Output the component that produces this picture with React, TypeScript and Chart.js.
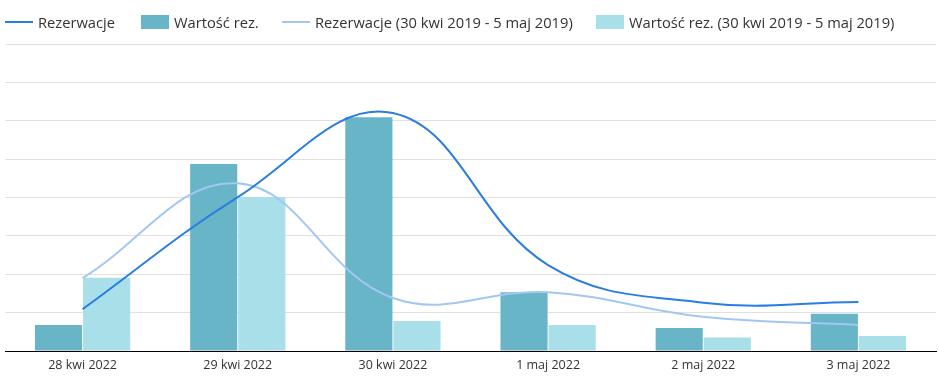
import React, { useEffect, useRef } from "react";
import { Chart, registerables } from "chart.js";

Chart.register(...registerables);

const categories = ["28 kwi 2022", "29 kwi 2022", "30 kwi 2022", "1 maj 2022", "2 maj 2022", "3 maj 2022"];
const rezerwacje = [1.09, 4.01, 6.2, 2.24, 1.26, 1.28];
const wartoscRez = [0.68, 4.87, 6.09, 1.53, 0.6, 0.97];
const rezerwacjePrev = [1.9, 4.37, 1.38, 1.53, 0.89, 0.68];
const wartoscRezPrev = [1.91, 4.01, 0.78, 0.68, 0.35, 0.39];

const labelRez = "Rezerwacje";
const labelWart = "Wartość rez.";
const labelRezPrev = "Rezerwacje (30 kwi 2019 - 5 maj 2019)";
const labelWartPrev = "Wartość rez. (30 kwi 2019 - 5 maj 2019)";

const C_LINE = "#2a7de1";
const C_LINE_PREV = "#a3c7f3";
const C_BAR = "#68b5c8";
const C_BAR_PREV = "#a8dfe9";

const FONT = "'Open Sans', 'Noto Sans', sans-serif";

const legendItems = [
  { label: labelRez, color: C_LINE, kind: "line", x: 5 },
  { label: labelWart, color: C_BAR, kind: "box", x: 141 },
  { label: labelRezPrev, color: C_LINE_PREV, kind: "line", x: 282 },
  { label: labelWartPrev, color: C_BAR_PREV, kind: "box", x: 596 },
];

export default function App() {
  const ref = useRef<HTMLCanvasElement>(null);

  useEffect(() => {
    if (!ref.current) return;
    const chart = new Chart(ref.current, {
      type: "bar",
      data: {
        labels: categories,
        datasets: [
          {
            type: "line",
            label: labelRez,
            data: rezerwacje,
            borderColor: C_LINE,
            backgroundColor: C_LINE,
            borderWidth: 2,
            pointRadius: 0,
            tension: 0.4,
            order: 0,
          },
          {
            type: "line",
            label: labelRezPrev,
            data: rezerwacjePrev,
            borderColor: C_LINE_PREV,
            backgroundColor: C_LINE_PREV,
            borderWidth: 2,
            pointRadius: 0,
            tension: 0.4,
            order: 1,
          },
          {
            type: "bar",
            label: labelWart,
            data: wartoscRez,
            backgroundColor: C_BAR,
            borderWidth: 0,
            categoryPercentage: 0.62,
            barPercentage: 0.98,
            order: 2,
          },
          {
            type: "bar",
            label: labelWartPrev,
            data: wartoscRezPrev,
            backgroundColor: C_BAR_PREV,
            borderWidth: 0,
            categoryPercentage: 0.62,
            barPercentage: 0.98,
            order: 3,
          },
        ],
      } as any,
      options: {
        responsive: false,
        animation: false,
        layout: { padding: { top: 44, left: 5, right: 3, bottom: 1 } },
        plugins: {
          legend: { display: false },
          tooltip: { enabled: false },
        },
        scales: {
          x: {
            grid: { display: false, drawTicks: false },
            border: { display: true, color: "#000", width: 1 },
            ticks: {
              color: "#333",
              font: { family: FONT, size: 12.5 },
              padding: 7,
              maxRotation: 0,
            },
          },
          y: {
            min: 0,
            max: 8,
            grid: { color: "#e0e0e0", lineWidth: 1, drawTicks: false },
            border: { display: false },
            ticks: { display: false, stepSize: 1 },
          },
        },
      },
    });
    return () => chart.destroy();
  }, []);

  return (
    <div style={{ position: "fixed", left: 0, top: 0, width: 939, height: 381, background: "#fff" }}>
      <canvas ref={ref} width={939} height={381} style={{ position: "absolute", left: 0, top: 0, width: 939, height: 381 }} />
      {legendItems.map((it) => (
        <div
          key={it.label}
          style={{
            position: "absolute",
            left: it.x,
            top: 12,
            height: 20,
            display: "flex",
            alignItems: "center",
            fontFamily: FONT,
            fontSize: 14.7,
            color: "#333",
            whiteSpace: "nowrap",
          }}
        >
          <span
            style={{
              display: "inline-block",
              width: 28,
              height: it.kind === "line" ? 2 : 14,
              background: it.color,
              marginRight: 5,
            }}
          />
          <span>{it.label}</span>
        </div>
      ))}
    </div>
  );
}
